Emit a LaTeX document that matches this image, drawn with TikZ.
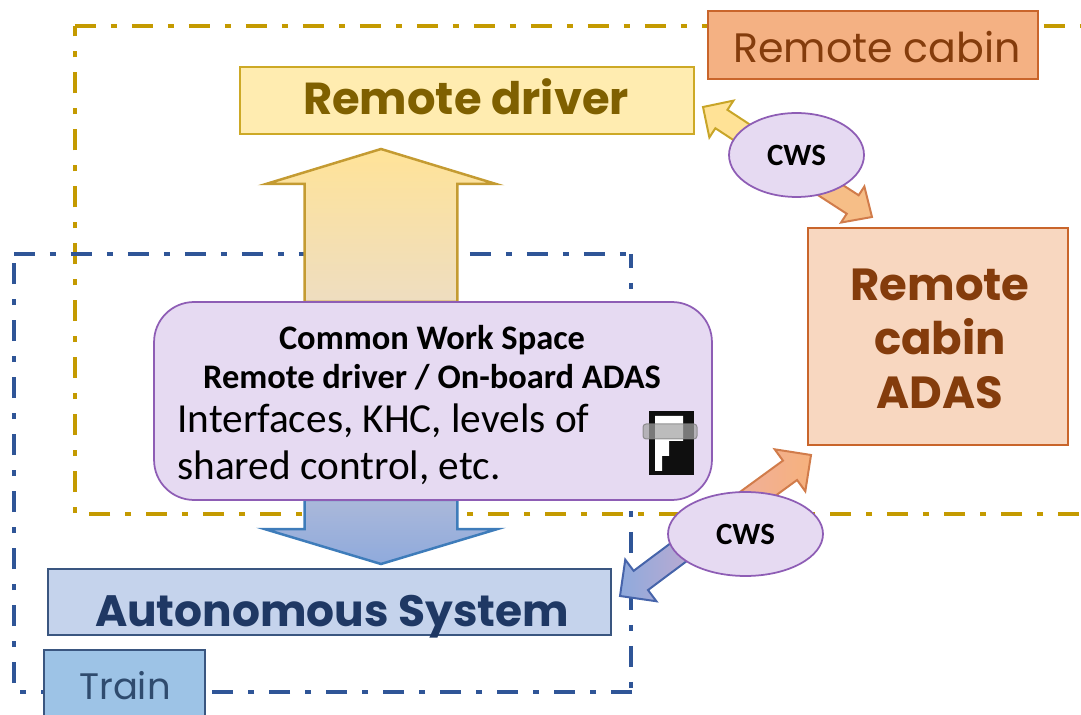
\documentclass[tikz,border=0pt]{standalone}
\usepackage{fontspec}
\usetikzlibrary{calc,shapes.geometric}
\newfontfamily\gothic{Poppins}
\newfontfamily\calibri{Carlito}
\definecolor{goldline}{HTML}{C49A00}
\definecolor{navyline}{HTML}{2F5597}
\definecolor{orangeline}{HTML}{C9652B}
\definecolor{purpleline}{HTML}{8E5DB5}
\definecolor{slateline}{HTML}{3A5680}
\definecolor{wsfill}{HTML}{E6DAF2}
\newcommand{\fatarrow}[6]{%
\draw[#6] (#2) -- ($(#2)!#3!(#1)!#4!90:(#1)$) -- ($(#2)!#3!(#1)!#5!90:(#1)$) -- ($(#1)!#5!-90:(#2)$)
 -- ($(#1)!#5!90:(#2)$) -- ($(#2)!#3!(#1)!#5!-90:(#1)$) -- ($(#2)!#3!(#1)!#4!-90:(#1)$) -- cycle;}
\tikzset{
 zone/.style={line width=0.085cm,dash pattern=on 0.42cm off 0.3cm on 0.12cm off 0.3cm},
 label box/.style={draw,line width=0.04cm,inner sep=0pt},
 cws/.style={ellipse,draw=purpleline,fill=wsfill,line width=0.035cm,inner sep=0pt,minimum height=1.68cm,font=\calibri\bfseries\fontsize{17.6}{20}\selectfont},
 wstext/.style={inner sep=0pt,font=\calibri\fontsize{23.5}{28}\selectfont},
 wshead/.style={inner sep=0pt,font=\calibri\bfseries\fontsize{19.6}{24}\selectfont}
}
\begin{document}
\begin{tikzpicture}[x=0.02cm,y=-0.02cm]
\useasboundingbox (0,0) rectangle (1081,715);
\clip (0,0) rectangle (1081,715);
\draw[zone,goldline] (75,26) -- (1100,26);
\draw[zone,goldline] (1136,514) -- (75,514) -- (75,26);
\draw[zone,navyline] (14,254) -- (631,254);
\draw[zone,navyline,dash phase=0.14cm] (631,254) -- (631,692);
\draw[zone,navyline] (632,692) -- (14,692) -- (14,254);
\coordinate (upbase) at (381,302);
\coordinate (uptip) at (381,149);
\coordinate (downbase) at (381,500);
\coordinate (downtip) at (381,564);
\coordinate (cwsamid) at (787,162);
\coordinate (drivertip) at (703,107);
\coordinate (adastip) at (872,217);
\coordinate (cwsbmid) at (715,525);
\coordinate (lowertip) at (811,455);
\coordinate (systemtip) at (620,596);
\fatarrow{upbase}{uptip}{0.7cm}{2.3cm}{1.53cm}{draw={rgb,255:red,196;green,155;blue,50},line width=0.05cm,top color={rgb,255:red,255;green,227;blue,152},bottom color={rgb,255:red,238;green,221;blue,192}}
\fatarrow{downbase}{downtip}{0.7cm}{2.33cm}{1.53cm}{draw={rgb,255:red,62;green,124;blue,186},line width=0.05cm,top color={rgb,255:red,170;green,184;blue,218},bottom color={rgb,255:red,143;green,170;blue,220}}
\fatarrow{cwsamid}{drivertip}{0.44cm}{0.44cm}{0.22cm}{draw={rgb,255:red,200;green,165;blue,40},line width=0.04cm,fill={rgb,255:red,255;green,226;blue,150}}
\fatarrow{cwsamid}{adastip}{0.46cm}{0.43cm}{0.22cm}{draw=orangeline!85!white,line width=0.04cm,fill={rgb,255:red,246;green,190;blue,135}}
\fatarrow{cwsbmid}{lowertip}{0.52cm}{0.52cm}{0.24cm}{draw=orangeline!85!white,line width=0.04cm,left color={rgb,255:red,238;green,175;blue,165},right color={rgb,255:red,246;green,177;blue,125}}
\fatarrow{cwsbmid}{systemtip}{0.52cm}{0.52cm}{0.24cm}{draw={rgb,255:red,70;green,100;blue,170},line width=0.04cm,left color={rgb,255:red,143;green,170;blue,220},right color={rgb,255:red,205;green,170;blue,205}}
\node[label box,draw=goldline!85!white,fill={rgb,255:red,255;green,236;blue,176},minimum width=9.08cm,minimum height=1.34cm] (driver) at (467,100.5) {};
\node[inner sep=0pt,anchor=base,text={rgb,255:red,127;green,96;blue,0},font=\gothic\bfseries\fontsize{25.5}{30}\selectfont] (driverlabel) at (466,115) {Remote driver};
\node[label box,draw=orangeline,fill={rgb,255:red,244;green,177;blue,131},minimum width=6.6cm,minimum height=1.36cm] (cabin) at (873,45) {};
\node[inner sep=0pt,anchor=base,text={rgb,255:red,132;green,60;blue,12},font=\gothic\fontsize{23.4}{28}\selectfont] (cabinlabel) at (877,63) {Remote cabin};
\node[label box,draw=orangeline,fill={rgb,255:red,248;green,215;blue,192},minimum width=5.2cm,minimum height=4.34cm] (adas) at (938,336.5) {};
\node[inner sep=0pt,anchor=base,align=center,text={rgb,255:red,132;green,60;blue,12},font=\gothic\bfseries\fontsize{25.6}{31}\selectfont] (adaslabel) at (940,409) {Remote\\cabin\\ADAS};
\node[label box,draw=slateline,fill={rgb,255:red,197;green,211;blue,236},minimum width=11.26cm,minimum height=1.32cm] (system) at (329.5,602) {};
\node[inner sep=0pt,anchor=base,text={rgb,255:red,31;green,56;blue,100},font=\gothic\bfseries\fontsize{25}{30}\selectfont] (systemlabel) at (332,626) {Autonomous System};
\node[label box,draw=slateline,fill={rgb,255:red,157;green,195;blue,230},minimum width=3.22cm,minimum height=2cm,anchor=north west] (train) at (43,649) {};
\node[inner sep=0pt,anchor=base,text={rgb,255:red,47;green,75;blue,110},font=\gothic\fontsize{21}{25}\selectfont] (trainlabel) at (125,699) {Train};
\node[draw=purpleline,fill=wsfill,line width=0.035cm,rounded corners=0.8cm,minimum width=11.16cm,minimum height=3.96cm,inner sep=0pt] (workspace) at (433,401) {};
\node[wshead,anchor=base] (wsone) at (432,350) {Common Work Space};
\node[wshead,anchor=base] (wstwo) at (432,389) {Remote driver / On-board ADAS};
\node[wstext,anchor=base west] (wsthree) at (177,433) {Interfaces, KHC, levels of};
\node[wstext,anchor=base west] (wsfour) at (177,480) {shared control, etc.};
\fill[black!94] (649,411) rectangle (694,475);
\fill[white] (655,416) -- (683,416) -- (683,441) -- (669,441) -- (669,456) -- (662,456) -- (662,471) -- (655,471) -- cycle;
\draw[gray,fill=black!36,fill opacity=0.72,draw opacity=0.8,line width=0.02cm,rounded corners=0.06cm] (643,424) rectangle (697,439);
\node[cws,minimum width=2.7cm] (cwsa) at (796.5,155) {CWS};
\node[cws,minimum width=3.1cm] (cwsb) at (745.5,534) {CWS};
\end{tikzpicture}
\end{document}
